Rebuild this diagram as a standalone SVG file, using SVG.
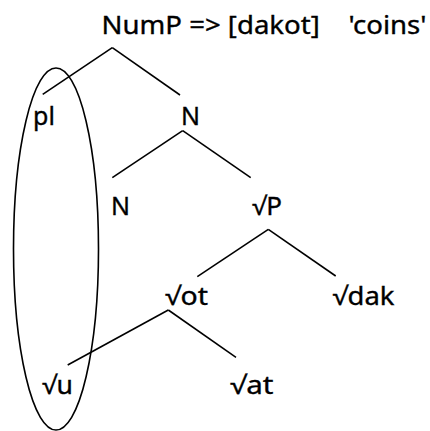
<svg xmlns="http://www.w3.org/2000/svg" width="430" height="431" viewBox="0 0 430 431">
<style>
text{font-family:"Noto Sans","Open Sans","DejaVu Sans",sans-serif;font-size:25px;fill:#000;stroke:#000;stroke-width:0.35}
.e{stroke:#000;stroke-width:1.6;fill:none;stroke-linecap:butt}
</style>
<rect width="430" height="431" fill="#fff"/>
<g id="connectors" class="e">
<line x1="112.3" y1="47.7" x2="42.7" y2="94.3"/>
<line x1="112.3" y1="47.7" x2="180" y2="95"/>
<line x1="182.7" y1="130.7" x2="112.3" y2="177.7"/>
<line x1="182.7" y1="130.7" x2="250.7" y2="177.7"/>
<line x1="268.3" y1="229.3" x2="197.3" y2="276.7"/>
<line x1="268.3" y1="229.3" x2="335.7" y2="276"/>
<line x1="168.3" y1="310" x2="67.7" y2="365"/>
<line x1="168.3" y1="310" x2="236" y2="357.3"/>
</g>
<g id="group-ellipse"><ellipse class="e" cx="56" cy="249" rx="42.5" ry="181"/></g>
<g id="NumP"><text x="101.5" y="33.5" font-size="26" textLength="325" lengthAdjust="spacingAndGlyphs" xml:space="preserve">NumP =&gt; [dakot]    'coins'</text></g>
<g id="pl"><text x="33" y="124.5">pl</text></g>
<g id="N1"><text x="181" y="124.5">N</text></g>
<g id="N2"><text x="111" y="214.5">N</text></g>
<g id="vP"><text x="252" y="214.5" textLength="30" lengthAdjust="spacingAndGlyphs">√P</text></g>
<g id="vot"><text x="165" y="305" textLength="43" lengthAdjust="spacingAndGlyphs">√ot</text></g>
<g id="vdak"><text x="332.5" y="305" textLength="62" lengthAdjust="spacingAndGlyphs">√dak</text></g>
<g id="vu"><text x="42" y="394" textLength="31" lengthAdjust="spacingAndGlyphs">√u</text></g>
<g id="vat"><text x="230" y="394" textLength="43.5" lengthAdjust="spacingAndGlyphs">√at</text></g>
</svg>
